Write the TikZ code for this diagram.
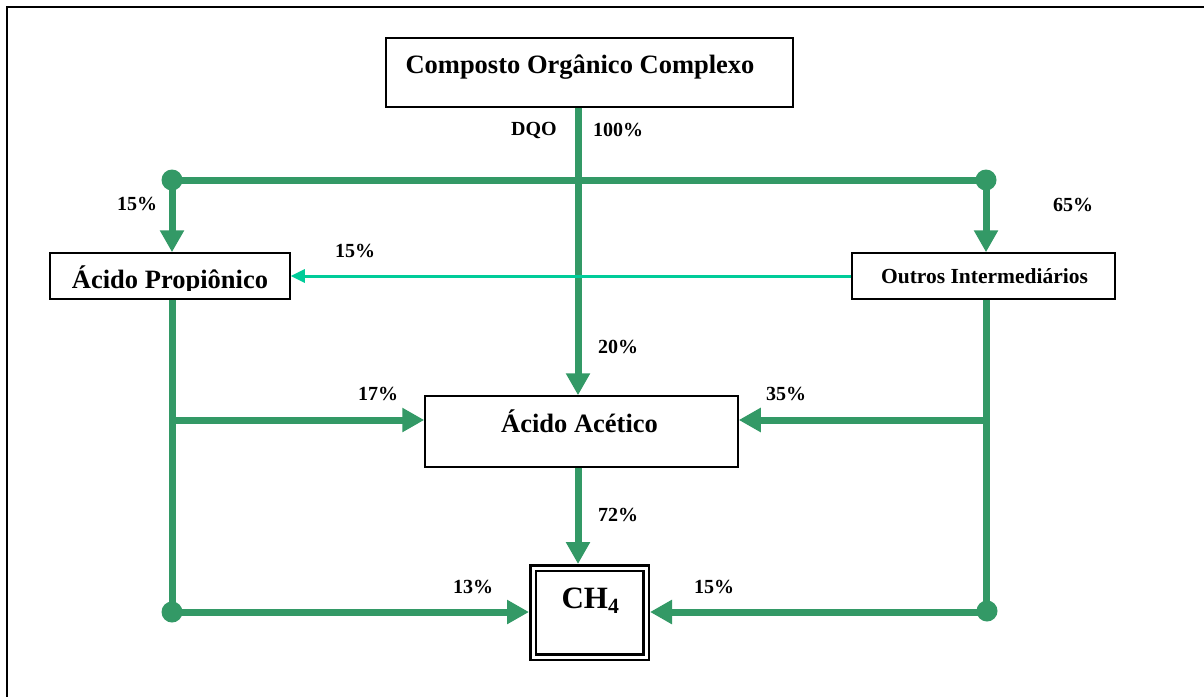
\documentclass[tikz,border=0pt]{standalone}
\usepackage{fontspec}
\setmainfont{Liberation Serif}
\usetikzlibrary{arrows.meta}
\definecolor{flow}{RGB}{51,153,102}
\definecolor{side}{RGB}{0,204,153}

\begin{document}
\begin{tikzpicture}[x=1pt,y=-1pt,
  box/.style={draw=black,line width=1.5pt,inner sep=0pt,outer sep=0.75pt},
  title/.style={anchor=base,inner sep=0pt,font=\bfseries\fontsize{26.5}{30}\selectfont},
  pct/.style={inner sep=0pt,font=\bfseries\fontsize{20}{24}\selectfont},
  flowline/.style={draw=flow,line width=7pt},
  flowarrow/.style={flowline,-{Triangle[length=22pt,width=23pt]}},
  sidearrow/.style={draw=side,line width=3pt,-{Triangle[length=14pt,width=13pt]}},
  joint/.style={fill=flow,draw=none}
]
\clip (0,0) rectangle (1204,696);
\fill[white] (0,0) rectangle (1204,696);

% page frame (top and left edges)
\draw[black,line width=1.8pt] (7,700) -- (7,7) -- (1210,7);

% boxes
\node[box,minimum width=407pt,minimum height=69pt] (top) at (589.5,72.5) {};
\node[box,minimum width=240pt,minimum height=46pt] (prop) at (170,276) {};
\node[box,minimum width=263pt,minimum height=46pt] (outros) at (983.5,276) {};
\node[box,minimum width=313pt,minimum height=71pt] (acet) at (581.5,431.5) {};
\node[draw=black,line width=2.5pt,double=white,double distance=3pt,inner sep=0pt,outer sep=4pt,
      minimum width=113pt,minimum height=89pt] (ch4) at (589.5,612.5) {};

% box texts
\node[title] (topT) at (580,73) {Composto Orgânico Complexo};
\begin{scope}
  \clip (prop.north west) rectangle (prop.east |- 0,290);
  \node[title] (propT) at (170,288) {Ácido Propiônico};
\end{scope}
\node[title,font=\bfseries\fontsize{21.5}{26}\selectfont] (outT) at (984.5,283) {Outros Intermediários};
\node[title] (acetT) at (579.5,432) {Ácido Acético};
\node[title,font=\bfseries\fontsize{31}{36}\selectfont] (ch4T) at (590.5,608) {CH\textsubscript{4}};

% junction points
\coordinate (mx) at (578,0);
\coordinate (jl) at (172,180);
\coordinate (jr) at (986,180);
\coordinate (ml) at (172,420);
\coordinate (mr) at (986,420);
\coordinate (bl) at (172,612);
\coordinate (br) at (986,612);

% connectors
\draw[flowline] (jl) -- (jr);
\draw[flowarrow] (top.south -| mx) -- (acet.north -| mx);
\draw[flowarrow] (jl) -- (prop.north -| jl);
\draw[flowarrow] (jr) -- (outros.north -| jr);
\draw[sidearrow] (outros.west) -- (prop.east);
\draw[flowline] (prop.south -| jl) -- (bl);
\draw[flowline] (outros.south -| jr) -- (br);
\draw[flowarrow] (ml) -- (acet.west |- ml);
\draw[flowarrow] (mr) -- (acet.east |- mr);
\draw[flowarrow] (bl) -- (ch4.west |- bl);
\draw[flowarrow] (br) -- (ch4.east |- br);
\draw[flowarrow] (acet.south -| mx) -- (ch4.north -| mx);

% joints
\fill[joint] (jl) circle (10.5pt);
\fill[joint] (jr) circle (10.5pt);
\fill[joint] (bl) circle (10.5pt);
\fill[joint] (987,611) circle (10.5pt);

% flow labels
\node[pct] (lDQO) at (534,130) {DQO};
\node[pct] (l100) at (618,130) {100\%};
\node[pct] (l15a) at (137,204) {15\%};
\node[pct] (l65) at (1073,205) {65\%};
\node[pct] (l15b) at (355,251) {15\%};
\node[pct] (l20) at (618,347) {20\%};
\node[pct] (l17) at (378,394) {17\%};
\node[pct] (l35) at (786,394) {35\%};
\node[pct] (l72) at (618,515) {72\%};
\node[pct] (l13) at (473,587) {13\%};
\node[pct] (l15c) at (714,587) {15\%};
\end{tikzpicture}
\end{document}
